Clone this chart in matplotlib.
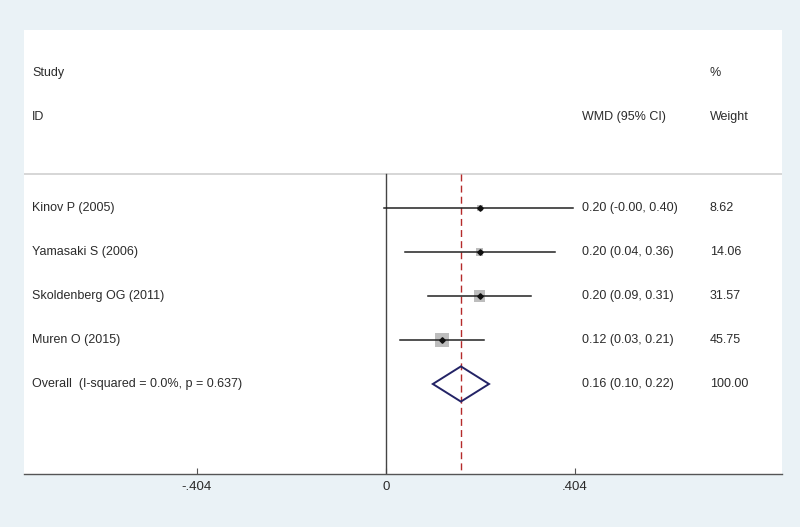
import matplotlib
matplotlib.use('Agg')
import matplotlib.pyplot as plt
from matplotlib.patches import Polygon

# study data
studies = ['Kinov P (2005)', 'Yamasaki S (2006)', 'Skoldenberg OG (2011)', 'Muren O (2015)']
wmd = [0.20, 0.20, 0.20, 0.12]
ci_lo = [-0.004, 0.04, 0.09, 0.03]
ci_hi = [0.40, 0.36, 0.31, 0.21]
weights = [8.62, 14.06, 31.57, 45.75]

overall = 0.16
overall_lo = 0.10
overall_hi = 0.22
overall_label = 'Overall  (I-squared = 0.0%, p = 0.637)'
overall_weight = 100.00

ticks = [-0.404, 0, 0.404]
tick_labels = ['-.404', '0', '.404']

bg = '#eaf2f6'
txt = '#2b2b2b'
font = ['Liberation Sans', 'DejaVu Sans']

fig = plt.figure(figsize=(8, 5.27), dpi=100, facecolor=bg)
ax = fig.add_axes([0.03, 0.1006, 0.9475, 0.8425])
ax.set_facecolor('white')
ax.set_xlim(-0.7735, 0.846)
ax.set_ylim(6.045, -4.045)

# columns
x_lab = -0.756
x_ci = 0.419
x_w = 0.692

ax.text(x_lab, -3.07, 'Study', ha='left', va='center', fontsize=9, color=txt, family=font)
ax.text(x_lab, -2.07, 'ID', ha='left', va='center', fontsize=9, color=txt, family=font)
ax.text(x_w, -3.07, '%', ha='left', va='center', fontsize=9, color=txt, family=font)
ax.text(x_w, -2.07, 'Weight', ha='left', va='center', fontsize=9, color=txt, family=font)
ax.text(x_ci, -2.07, 'WMD (95% CI)', ha='left', va='center', fontsize=9, color=txt, family=font)

# separator
ax.axhline(-0.773, color='#d0d0d0', lw=1.2)

# null line and overall line
ax.plot([0, 0], [-0.773, 6.045], color='#444444', lw=1.0)
ax.plot([overall, overall], [-0.773, 6.045], color='#b52a2a', lw=1.0, dashes=(5, 3))

for i in range(len(studies)):
    ax.scatter([wmd[i]], [i], marker='s', s=2.1 * weights[i], color='#bdbdbd',
               edgecolors='none', zorder=2)
    ax.plot([ci_lo[i], ci_hi[i]], [i, i], color='#222222', lw=1.1, zorder=3)
    ax.plot([wmd[i]], [i], marker='D', ms=2.8, color='#111111', zorder=4)
    ax.text(x_lab, i, studies[i], ha='left', va='center', fontsize=9, color=txt, family=font)
    ax.text(x_ci, i, f'{wmd[i]:.2f} ({ci_lo[i]:.2f}, {ci_hi[i]:.2f})', ha='left',
            va='center', fontsize=9, color=txt, family=font)
    ax.text(x_w, i, f'{weights[i]:.2f}', ha='left', va='center', fontsize=9, color=txt,
            family=font)

# overall diamond
k = len(studies)
dia = Polygon([[overall_lo, k], [overall, k - 0.4], [overall_hi, k], [overall, k + 0.4]],
              closed=True, fill=False, edgecolor='#232366', lw=1.4, zorder=3)
ax.add_patch(dia)
ax.text(x_lab, k, overall_label, ha='left', va='center', fontsize=9, color=txt, family=font)
ax.text(x_ci, k, f'{overall:.2f} ({overall_lo:.2f}, {overall_hi:.2f})', ha='left',
        va='center', fontsize=9, color=txt, family=font)
ax.text(x_w, k, f'{overall_weight:.2f}', ha='left', va='center', fontsize=9, color=txt,
        family=font)

for s in ['top', 'left', 'right']:
    ax.spines[s].set_visible(False)
ax.spines['bottom'].set_color('#555555')
ax.spines['bottom'].set_linewidth(1.0)
ax.set_yticks([])
ax.set_xticks(ticks)
ax.set_xticklabels(tick_labels, family=font, fontsize=9.5, color=txt)
ax.tick_params(axis='x', direction='in', length=4, color='#555555', pad=5)

fig.savefig('out.png', dpi=100, facecolor=bg)
